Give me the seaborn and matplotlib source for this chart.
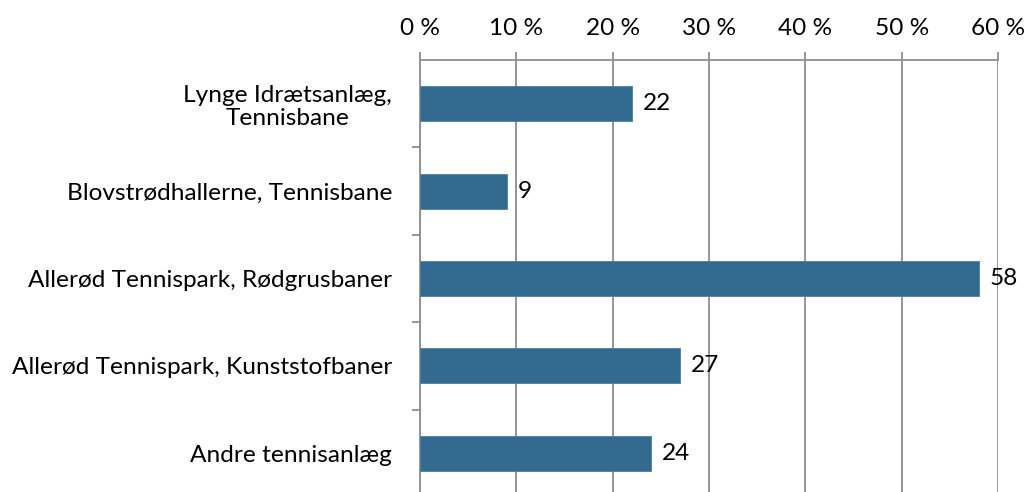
import matplotlib
matplotlib.use("Agg")
import matplotlib.pyplot as plt
import seaborn as sns
import pandas as pd
import numpy as np

categories = [
    "Lynge Idrætsanlæg,\nTennisbane",
    "Blovstrødhallerne, Tennisbane",
    "Allerød Tennispark, Rødgrusbaner",
    "Allerød Tennispark, Kunststofbaner",
    "Andre tennisanlæg",
]
values = [22, 9, 58, 27, 24]
x_ticks = [0, 10, 20, 30, 40, 50, 60]
x_tick_labels = ["0 %", "10 %", "20 %", "30 %", "40 %", "50 %", "60 %"]

sns.set_theme(style="white")
plt.rcParams["font.family"] = ["Lato", "DejaVu Sans"]

df = pd.DataFrame({"kategori": categories, "andel": values})

W, H = 1029, 492
fig = plt.figure(figsize=(W / 100, H / 100), dpi=100)
ax = fig.add_axes([420 / W, -5 / H, (998 - 420) / W, (497 - 60) / H])

bar_color = "#336A90"
sns.barplot(data=df, y="kategori", x="andel", orient="h", color=bar_color,
            width=0.4, saturation=1, edgecolor="#4A7EA3", linewidth=0.6,
            ax=ax, zorder=3)

grid_color = "#8E8E8E"
fs = 17.6
ax.set_xlim(0, 60)
ax.set_ylim(len(categories) - 0.5, -0.5)
ax.set_xticks(x_ticks)
ax.set_xticklabels(x_tick_labels)
ax.xaxis.tick_top()
ax.xaxis.set_label_position("top")
ax.tick_params(axis="x", which="major", direction="out", length=6, width=1.3,
               color=grid_color, pad=9, labelsize=fs, labelcolor="#000000")
ax.grid(axis="x", color=grid_color, linewidth=1.3, zorder=0)
ax.grid(axis="y", visible=False)

# category labels on major ticks, boundary marks on minor ticks
ax.set_yticks(range(len(categories)))
ax.set_yticklabels(categories, multialignment="center", linespacing=1.15)
ax.set_yticks(np.arange(0.5, len(categories) - 0.5, 1.0), minor=True)
ax.tick_params(axis="y", which="major", length=0, pad=20, labelsize=fs,
               labelcolor="#000000")
ax.tick_params(axis="y", which="minor", direction="out", length=6, width=1.3,
               color=grid_color, left=True)
ax.set_xlabel("")
ax.set_ylabel("")

for side in ["right", "bottom"]:
    ax.spines[side].set_visible(False)
for side in ["top", "left"]:
    ax.spines[side].set_visible(True)
    ax.spines[side].set_color(grid_color)
    ax.spines[side].set_linewidth(1.3)

ax.bar_label(ax.containers[0], labels=[str(v) for v in values], padding=8,
             fontsize=fs, color="#000000")

fig.savefig("out.png", dpi=100)
